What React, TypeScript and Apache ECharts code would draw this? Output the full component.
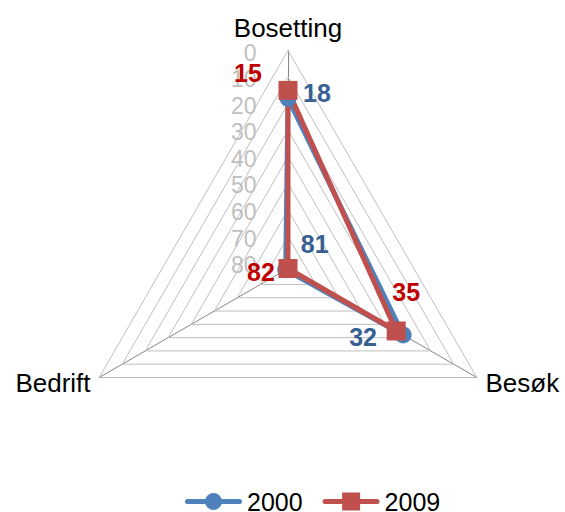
import React, { useEffect, useRef } from 'react';
import * as echarts from 'echarts';

// Indicator order as ECharts lays them out (counter-clockwise from the top)
const CATEGORIES = ['Bosetting', 'Bedrift', 'Besøk'];
const SERIES_NAMES = ['2000', '2009'];
const VALUES_2000 = [18, 81, 32];
const VALUES_2009 = [15, 82, 35];
const AXIS_MAX = 82; // value at the centre (the axis runs from 0 outside to 82 inside)
const RING_TICKS = [0, 10, 20, 30, 40, 50, 60, 70, 80];

const FONT = '"Liberation Sans", Arial, Helvetica, sans-serif';
const COLORS = ['#4F81BD', '#C0504D'];
const LABEL_COLORS = ['#376092', '#C00000'];
const LABEL_OFFSETS = [
  [[29, -5], [29, -26], [-40, 2]],
  [[-40, -17], [-27, 3], [10, -39]],
];

const ICON_2000 =
  'path://M2.5,6H54.5A2.5,2.5 0 0 1 54.5,11H2.5A2.5,2.5 0 0 1 2.5,6Z M20,8.5A8.5,8.5 0 1 1 37,8.5A8.5,8.5 0 1 1 20,8.5Z';
const ICON_2009 =
  'path://M2.5,6.5H54.5A2.5,2.5 0 0 1 54.5,11.5H2.5A2.5,2.5 0 0 1 2.5,6.5Z M19.5,0H37.5V18H19.5Z';

const neg = (arr: number[]) => arr.map((v) => -v);
const YEAR_VALUES = [VALUES_2000, VALUES_2009];

export default function App() {
  const ref = useRef<HTMLDivElement>(null);
  useEffect(() => {
    const chart = echarts.init(ref.current!, null, { renderer: 'svg' });
    const option: any = {
      animation: false,
      backgroundColor: '#ffffff',
      textStyle: { fontFamily: FONT },
      legend: {
        data: [
          { name: SERIES_NAMES[0], icon: ICON_2000 },
          { name: SERIES_NAMES[1], icon: ICON_2009 },
        ],
        left: 185,
        top: 489,
        padding: 0,
        itemWidth: 57,
        itemHeight: 18,
        itemGap: 20,
        selectedMode: false,
        itemStyle: { borderWidth: 0 },
        textStyle: { fontSize: 25, lineHeight: 20, color: '#000', fontFamily: FONT },
      },
      radar: {
        center: [288, 268.5],
        radius: 218,
        startAngle: 90,
        shape: 'polygon',
        splitNumber: 1,
        nameGap: 10,
        axisName: { color: '#000', fontSize: 26, fontFamily: FONT },
        splitLine: { show: false },
        splitArea: { show: false },
        axisLine: { lineStyle: { color: '#868686', width: 1 } },
        indicator: CATEGORIES.map((name) => ({ name, min: -AXIS_MAX, max: 0 })),
      },
      series: [
        {
          type: 'radar',
          z: 1,
          silent: true,
          symbol: 'circle',
          symbolSize: 1,
          itemStyle: { color: 'rgba(0,0,0,0)' },
          lineStyle: { color: '#BFBFBF', width: 1 },
          label: {
            show: true,
            position: 'left',
            distance: 31,
            offset: [0, 2],
            fontSize: 23,
            color: '#BFBFBF',
            fontFamily: FONT,
            textBorderWidth: 0,
            formatter: (p: any) => (p.dimensionIndex === 0 ? String(-p.value) : ''),
          },
          data: RING_TICKS.map((t) => ({ name: 'ring' + t, value: CATEGORIES.map(() => -t) })),
        },
        {
          type: 'radar',
          z: 3,
          silent: true,
          data: SERIES_NAMES.map((name, i) => ({
            name,
            value: neg(YEAR_VALUES[i]),
            symbol: i === 0 ? 'circle' : 'rect',
            symbolSize: i === 0 ? 17 : 19,
            itemStyle: { color: COLORS[i] },
            lineStyle: { color: COLORS[i], width: 5 },
          })),
        },
        {
          type: 'radar',
          z: 5,
          silent: true,
          symbol: 'circle',
          symbolSize: 1,
          itemStyle: { color: 'rgba(0,0,0,0)' },
          lineStyle: { opacity: 0, width: 0 },
          label: {
            show: true,
            position: 'inside',
            fontSize: 25,
            fontWeight: 'bold',
            fontFamily: FONT,
            textBorderWidth: 0,
            formatter: (p: any) =>
              p.dimensionIndex === p.dataIndex % CATEGORIES.length ? String(-p.value) : '',
          },
          data: SERIES_NAMES.flatMap((name, i) =>
            CATEGORIES.map((_, k) => ({
              name: 'lbl' + name + '-' + k,
              value: neg(YEAR_VALUES[i]),
              label: { color: LABEL_COLORS[i], offset: LABEL_OFFSETS[i][k] },
            }))
          ),
        },
      ],
    };
    chart.setOption(option);
    return () => chart.dispose();
  }, []);
  return (
    <div
      ref={ref}
      style={{ position: 'fixed', left: 0, top: 0, width: 565, height: 512 }}
    />
  );
}
